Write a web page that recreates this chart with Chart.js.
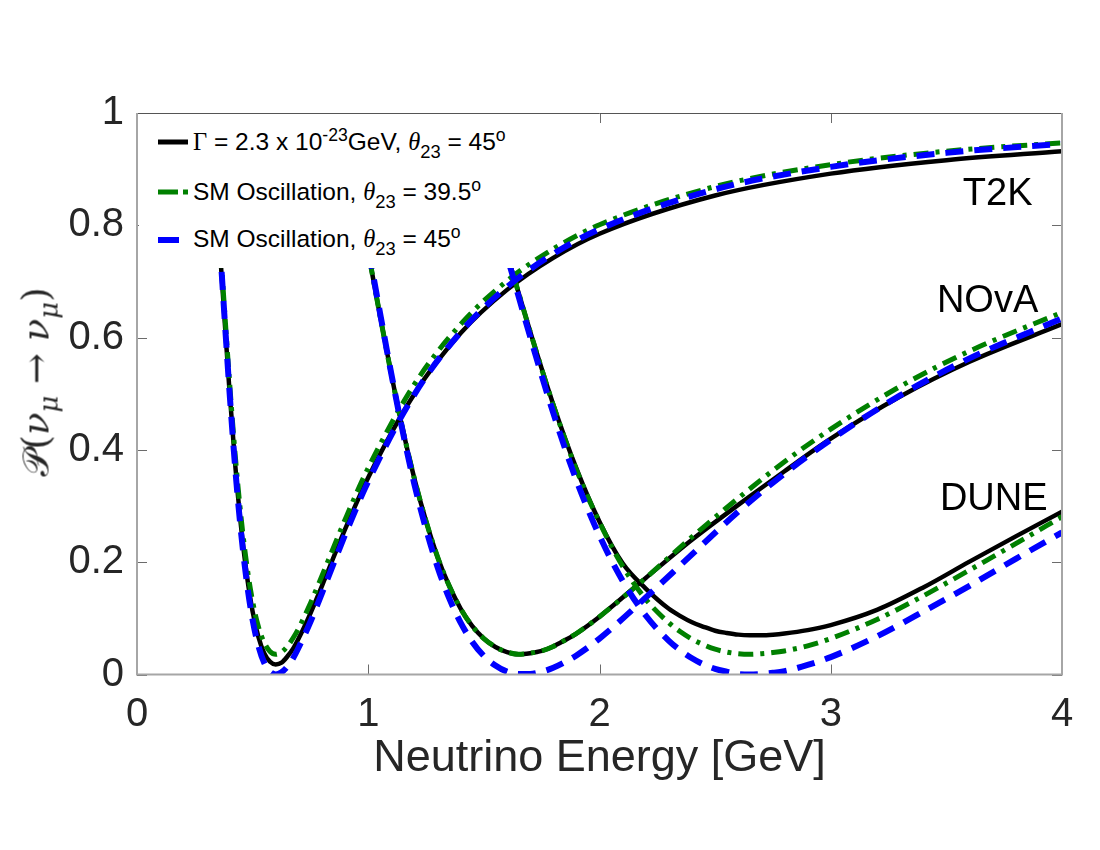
<!DOCTYPE html>
<html>
<head>
<meta charset="utf-8">
<script src="https://cdn.jsdelivr.net/npm/chart.js@4.4.0/dist/chart.umd.min.js"></script>
<style>
  body { margin: 0; background: #fff; }
  #wrap { position: relative; width: 1100px; height: 850px; }
  #ytitle {
    position: absolute; left: 36px; top: 382px;
    transform: translate(-50%, -50%) rotate(-90deg);
    font-family: "DejaVu Serif", serif; font-size: 37px; color: #262626;
    white-space: nowrap; line-height: 1;
  }
  #ytitle i { font-style: italic; }
  #ytitle .sb { font-style: italic; font-size: 0.7em; position: relative; top: 0.35em; }
  #legend {
    position: absolute; left: 139px; top: 114px; width: 386px; height: 154px;
    background: #fff;
  }
  .row {
    position: absolute; left: 193px; font-family: "Liberation Sans", Arial, sans-serif;
    font-size: 24.5px; line-height: 30px; white-space: nowrap; color: #000;
  }
  .row .th { font-family: "Liberation Serif", serif; font-style: italic; }
  .row .gm { font-family: "Liberation Serif", serif; }
  .row .sub { font-size: 0.75em; position: relative; top: 0.45em; }
  .row .sup { font-size: 0.72em; position: relative; top: -0.5em; }
  .sample { position: absolute; left: 158px; }
</style>
</head>
<body>
<div id="wrap">
  <canvas id="chart" width="1100" height="850"></canvas>
  <div id="ytitle">𝒫(<i>ν</i><span class="sb">μ</span> → <i>ν</i><span class="sb">μ</span>)</div>
  <div id="legend"></div>
  <svg class="sample" style="top:137px" width="32" height="10"><line x1="0" y1="5" x2="30" y2="5" stroke="#000" stroke-width="5"/></svg>
  <svg class="sample" style="top:187px" width="32" height="10"><line x1="0" y1="5" x2="30" y2="5" stroke="#008000" stroke-width="5" stroke-dasharray="20 5 5 10"/></svg>
  <svg class="sample" style="top:235px" width="32" height="10"><line x1="0" y1="5" x2="21" y2="5" stroke="#0000ff" stroke-width="6"/></svg>
  <div class="row" style="top:127px"><span class="gm">Γ</span> = 2.3 x 10<span class="sup">-23</span>GeV, <span class="th">θ</span><span class="sub">23</span> = 45<span class="sup">o</span></div>
  <div class="row" style="top:177px">SM Oscillation, <span class="th">θ</span><span class="sub">23</span> = 39.5<span class="sup">o</span></div>
  <div class="row" style="top:224px">SM Oscillation, <span class="th">θ</span><span class="sub">23</span> = 45<span class="sup">o</span></div>
</div>
<script>
// axis ticks
const xTickValues = [0, 1, 2, 3, 4];
const xTickLabels = ['0', '1', '2', '3', '4'];
const yTickValues = [0, 0.2, 0.4, 0.6, 0.8, 1];
const yTickLabels = ['0', '0.2', '0.4', '0.6', '0.8', '1'];

// T2K (energy in GeV)
const t2kEnergy = [0.33, 0.36, 0.38, 0.40, 0.425, 0.45, 0.475, 0.50, 0.525, 0.55, 0.575, 0.60, 0.625, 0.65, 0.675, 0.70, 0.75, 0.80, 0.90, 1.0, 1.2, 1.4, 1.6, 1.8, 2.0, 2.5, 3.0, 3.5, 4.0];
const t2kDecay = [0.911, 0.747, 0.624, 0.505, 0.372, 0.263, 0.177, 0.112, 0.067, 0.038, 0.023, 0.018, 0.021, 0.032, 0.046, 0.065, 0.109, 0.158, 0.259, 0.351, 0.500, 0.608, 0.685, 0.742, 0.785, 0.853, 0.892, 0.916, 0.932];
const t2kSm395 = [0.926, 0.763, 0.641, 0.522, 0.389, 0.280, 0.194, 0.130, 0.085, 0.057, 0.041, 0.036, 0.040, 0.050, 0.065, 0.083, 0.127, 0.176, 0.276, 0.368, 0.517, 0.624, 0.701, 0.758, 0.801, 0.869, 0.908, 0.932, 0.947];
const t2kSm45 = [0.923, 0.754, 0.627, 0.504, 0.366, 0.253, 0.164, 0.097, 0.051, 0.021, 0.005, 0.000, 0.004, 0.014, 0.029, 0.049, 0.094, 0.145, 0.249, 0.344, 0.499, 0.610, 0.690, 0.749, 0.793, 0.864, 0.904, 0.929, 0.945];

// NOvA
const novaEnergy = [0.98, 1.0, 1.05, 1.1, 1.15, 1.2, 1.25, 1.3, 1.35, 1.4, 1.45, 1.5, 1.55, 1.6, 1.65, 1.7, 1.75, 1.8, 1.85, 1.9, 2.0, 2.2, 2.4, 2.6, 2.8, 3.0, 3.3, 3.6, 4.0];
const novaDecay = [0.796, 0.752, 0.641, 0.534, 0.435, 0.348, 0.273, 0.209, 0.158, 0.117, 0.086, 0.064, 0.049, 0.040, 0.036, 0.038, 0.042, 0.050, 0.061, 0.073, 0.103, 0.172, 0.240, 0.302, 0.362, 0.420, 0.495, 0.557, 0.624];
const novaSm395 = [0.796, 0.752, 0.641, 0.534, 0.435, 0.348, 0.273, 0.209, 0.158, 0.117, 0.086, 0.064, 0.049, 0.040, 0.036, 0.038, 0.042, 0.050, 0.061, 0.073, 0.103, 0.172, 0.245, 0.314, 0.379, 0.437, 0.513, 0.576, 0.645];
const novaSm45 = [0.805, 0.760, 0.646, 0.535, 0.431, 0.338, 0.259, 0.191, 0.136, 0.092, 0.058, 0.033, 0.016, 0.005, 0.001, 0.001, 0.005, 0.012, 0.022, 0.034, 0.064, 0.137, 0.214, 0.290, 0.358, 0.418, 0.497, 0.563, 0.634];

// DUNE
const duneEnergy = [1.5, 1.6, 1.7, 1.8, 1.9, 2.0, 2.1, 2.2, 2.3, 2.35, 2.4, 2.45, 2.5, 2.55, 2.6, 2.65, 2.7, 2.75, 2.8, 2.9, 3.0, 3.2, 3.4, 3.6, 3.8, 4.0];
const duneDecay = [0.879, 0.749, 0.611, 0.481, 0.367, 0.272, 0.198, 0.153, 0.117, 0.104, 0.093, 0.085, 0.078, 0.074, 0.071, 0.070, 0.070, 0.071, 0.073, 0.079, 0.088, 0.115, 0.155, 0.201, 0.246, 0.290];
const duneSm395 = [0.879, 0.749, 0.611, 0.480, 0.365, 0.271, 0.193, 0.134, 0.092, 0.076, 0.063, 0.053, 0.045, 0.040, 0.037, 0.036, 0.037, 0.039, 0.042, 0.051, 0.064, 0.098, 0.140, 0.186, 0.233, 0.281];
const duneSm45 = [0.879, 0.745, 0.602, 0.466, 0.346, 0.247, 0.167, 0.105, 0.060, 0.043, 0.029, 0.018, 0.010, 0.005, 0.001, 0.000, 0.001, 0.003, 0.006, 0.017, 0.031, 0.068, 0.112, 0.158, 0.206, 0.253];

const experimentNames = ['T2K', 'NOvA', 'DUNE'];

// line styles for the three models
const styles = {
  decay: { color: '#000000', width: 4.5, dash: [], order: 3 },
  sm395: { color: '#008000', width: 5, dash: [15, 7, 4, 7], order: 2 },
  sm45:  { color: '#0000ff', width: 6, dash: [18, 11], order: 1 }
};

// where the experiment names sit (data coordinates)
const namePositions = [
  { x: 3.571, y: 0.836 },
  { x: 3.459, y: 0.646 },
  { x: 3.472, y: 0.293 }
];

function makeSet(label, xs, ys, style) {
  return {
    label: label,
    data: xs.map((x, i) => ({ x: x, y: ys[i] })),
    borderColor: style.color,
    borderWidth: style.width,
    borderDash: style.dash,
    pointRadius: 0,
    fill: false,
    cubicInterpolationMode: 'monotone',
    order: style.order
  };
}

const datasets = [
  makeSet('T2K decay', t2kEnergy, t2kDecay, styles.decay),
  makeSet('T2K SM 39.5', t2kEnergy, t2kSm395, styles.sm395),
  makeSet('T2K SM 45', t2kEnergy, t2kSm45, styles.sm45),
  makeSet('NOvA decay', novaEnergy, novaDecay, styles.decay),
  makeSet('NOvA SM 39.5', novaEnergy, novaSm395, styles.sm395),
  makeSet('NOvA SM 45', novaEnergy, novaSm45, styles.sm45),
  makeSet('DUNE decay', duneEnergy, duneDecay, styles.decay),
  makeSet('DUNE SM 39.5', duneEnergy, duneSm395, styles.sm395),
  makeSet('DUNE SM 45', duneEnergy, duneSm45, styles.sm45)
];

// box, inward ticks and experiment names
const framePlugin = {
  id: 'frame',
  afterDatasetsDraw(chart) {
    const { ctx, chartArea: a, scales: { x, y } } = chart;
    ctx.save();
    ctx.lineWidth = 1;
    ctx.strokeStyle = '#6b6b6b';
    ctx.beginPath();
    xTickValues.forEach(v => {
      const px = Math.round(x.getPixelForValue(v)) + 0.5;
      ctx.moveTo(px, a.bottom); ctx.lineTo(px, a.bottom - 10);
      ctx.moveTo(px, a.top); ctx.lineTo(px, a.top + 10);
    });
    yTickValues.forEach(v => {
      const py = Math.round(y.getPixelForValue(v)) + 0.5;
      ctx.moveTo(a.left, py); ctx.lineTo(a.left + 10, py);
      ctx.moveTo(a.right, py); ctx.lineTo(a.right - 10, py);
    });
    ctx.stroke();

    ctx.strokeStyle = '#555555';
    ctx.beginPath();
    ctx.moveTo(a.left, a.top + 0.5); ctx.lineTo(a.right, a.top + 0.5);
    ctx.stroke();

    ctx.strokeStyle = '#a6a6a6';
    ctx.lineWidth = 2;
    ctx.beginPath();
    ctx.moveTo(a.left, a.top); ctx.lineTo(a.left, a.bottom);
    ctx.lineTo(a.right, a.bottom); ctx.lineTo(a.right, a.top);
    ctx.stroke();

    ctx.fillStyle = '#000';
    ctx.font = '38px "Liberation Sans", Arial, sans-serif';
    ctx.textAlign = 'left';
    ctx.textBaseline = 'alphabetic';
    experimentNames.forEach((name, i) => {
      const p = namePositions[i];
      ctx.fillText(name, x.getPixelForValue(p.x), y.getPixelForValue(p.y));
    });
    ctx.restore();
  }
};

new Chart(document.getElementById('chart'), {
  type: 'line',
  data: { datasets: datasets },
  options: {
    responsive: false,
    animation: false,
    devicePixelRatio: 1,
    layout: { padding: { top: 113, right: 38, left: 0, bottom: 0 } },
    plugins: { legend: { display: false }, tooltip: { enabled: false } },
    scales: {
      x: {
        type: 'linear', min: 0, max: 4,
        afterBuildTicks: s => { s.ticks = xTickValues.map(v => ({ value: v })); },
        afterFit: s => { s.height = 175.5; },
        grid: { display: false, drawTicks: false },
        border: { display: false },
        ticks: {
          padding: 16, maxRotation: 0, autoSkip: false, color: '#262626',
          font: { family: 'Liberation Sans', size: 40 },
          callback: v => xTickLabels[xTickValues.indexOf(v)]
        },
        title: {
          display: true, text: 'Neutrino Energy [GeV]', color: '#262626',
          font: { family: 'Liberation Sans', size: 45, lineHeight: 1.2 },
          padding: { top: 0, bottom: 64 }
        }
      },
      y: {
        type: 'linear', min: 0, max: 1,
        afterBuildTicks: s => { s.ticks = yTickValues.map(v => ({ value: v })); },
        afterFit: s => { s.width = 137; },
        grid: { display: false, drawTicks: false },
        border: { display: false },
        ticks: {
          padding: 13, color: '#262626',
          font: { family: 'Liberation Sans', size: 40 },
          callback: v => {
            const i = yTickValues.findIndex(t => Math.abs(t - v) < 1e-9);
            return i >= 0 ? yTickLabels[i] : '';
          }
        }
      }
    }
  },
  plugins: [framePlugin]
});
</script>
</body>
</html>
